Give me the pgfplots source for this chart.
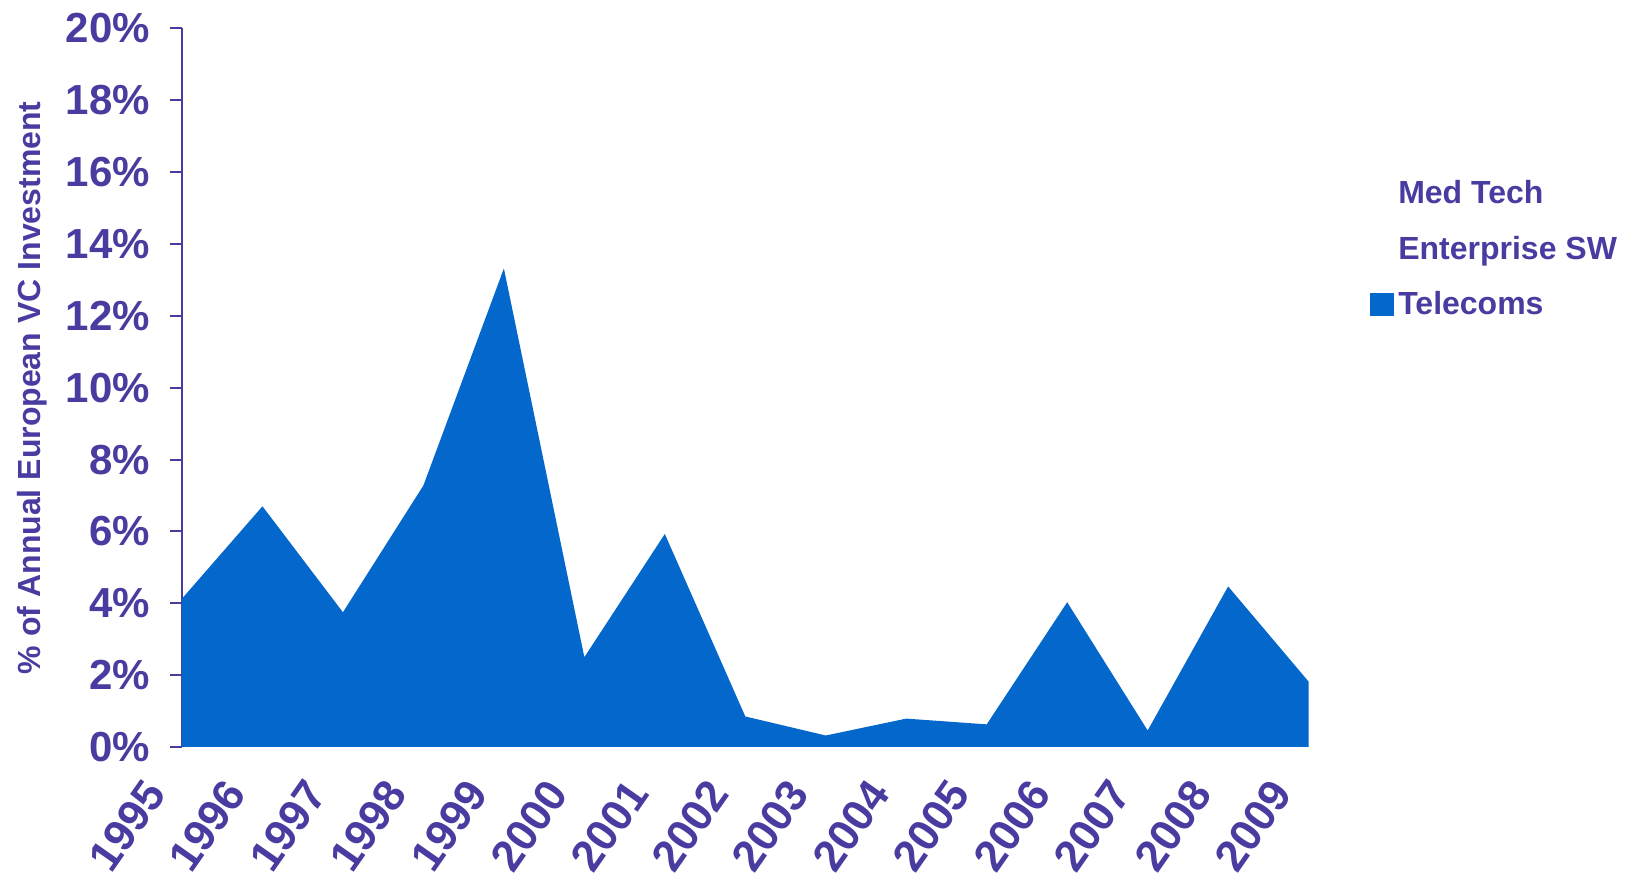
\documentclass[border=0pt]{standalone}
\usepackage{fontspec}
\setmainfont{Liberation Sans}
\usepackage{pgfplots}
\pgfplotsset{compat=1.18}
\definecolor{labpurple}{RGB}{72,60,160}
\definecolor{telblue}{RGB}{3,103,204}
\begin{document}
\begin{tikzpicture}
\useasboundingbox (-91bp,-67bp) rectangle (735bp,373.5bp);
\begin{axis}[
  at={(0,0)}, anchor=origin,
  scale only axis,
  width=563.3bp, height=359.25bp,
  xmin=0, xmax=14, ymin=0, ymax=20,
  axis lines=left,
  axis line style={-, draw=labpurple, line width=1pt},
  x axis line style={draw=none},
  xtick={0,...,14},
  xticklabels={1995,1996,1997,1998,1999,2000,2001,2002,2003,2004,2005,2006,2007,2008,2009},
  xtick style={draw=none},
  ytick={0,2,...,20},
  yticklabel={\pgfmathprintnumber{\tick}\%},
  /pgf/number format/assume math mode=true,
  tick align=outside,
  major tick length=6bp,
  ytick style={draw=labpurple, line width=1pt},
  tick label style={font=\fontsize{21bp}{25bp}\selectfont\bfseries, text=labpurple},
  yticklabel style={xshift=-6.6bp},
  xticklabel style={font=\fontsize{22bp}{26bp}\selectfont\bfseries, xshift=-20bp, yshift=-8.5bp, rotate=55, anchor=north east, inner sep=0pt},
  ylabel={\% of Annual European VC Investment},
  ylabel style={at={(axis description cs:-0.1325,0.5)}, anchor=center, font=\fontsize{16bp}{19bp}\selectfont\bfseries, text=labpurple},
  legend style={at={(axis description cs:1.0544,0.693)}, anchor=west, draw=none, fill=none,
    font=\fontsize{16bp}{19bp}\selectfont\bfseries, text=labpurple,
    row sep=10.7bp, inner sep=0pt},
  legend cell align=left,
  legend image code/.code={\fill[#1] (-3.7bp,-5.8bp) rectangle (8.3bp,5.8bp);},
  /tikz/every even column/.append style={column sep=8.7bp},
]
\addlegendimage{fill=white, draw=none}
\addlegendentry{Med Tech}
\addlegendimage{fill=white, draw=none}
\addlegendentry{Enterprise SW}
\addplot[fill=telblue, draw=none] coordinates {
(0,4.13) (1,6.70) (2,3.75) (3,7.28) (4,13.32) (5,2.50) (6,5.93) (7,0.85)
(8,0.32) (9,0.79) (10,0.63) (11,4.03) (12,0.46) (13,4.47) (14,1.82)
} \closedcycle;
\addlegendentry{Telecoms}
\end{axis}
\end{tikzpicture}
\end{document}
